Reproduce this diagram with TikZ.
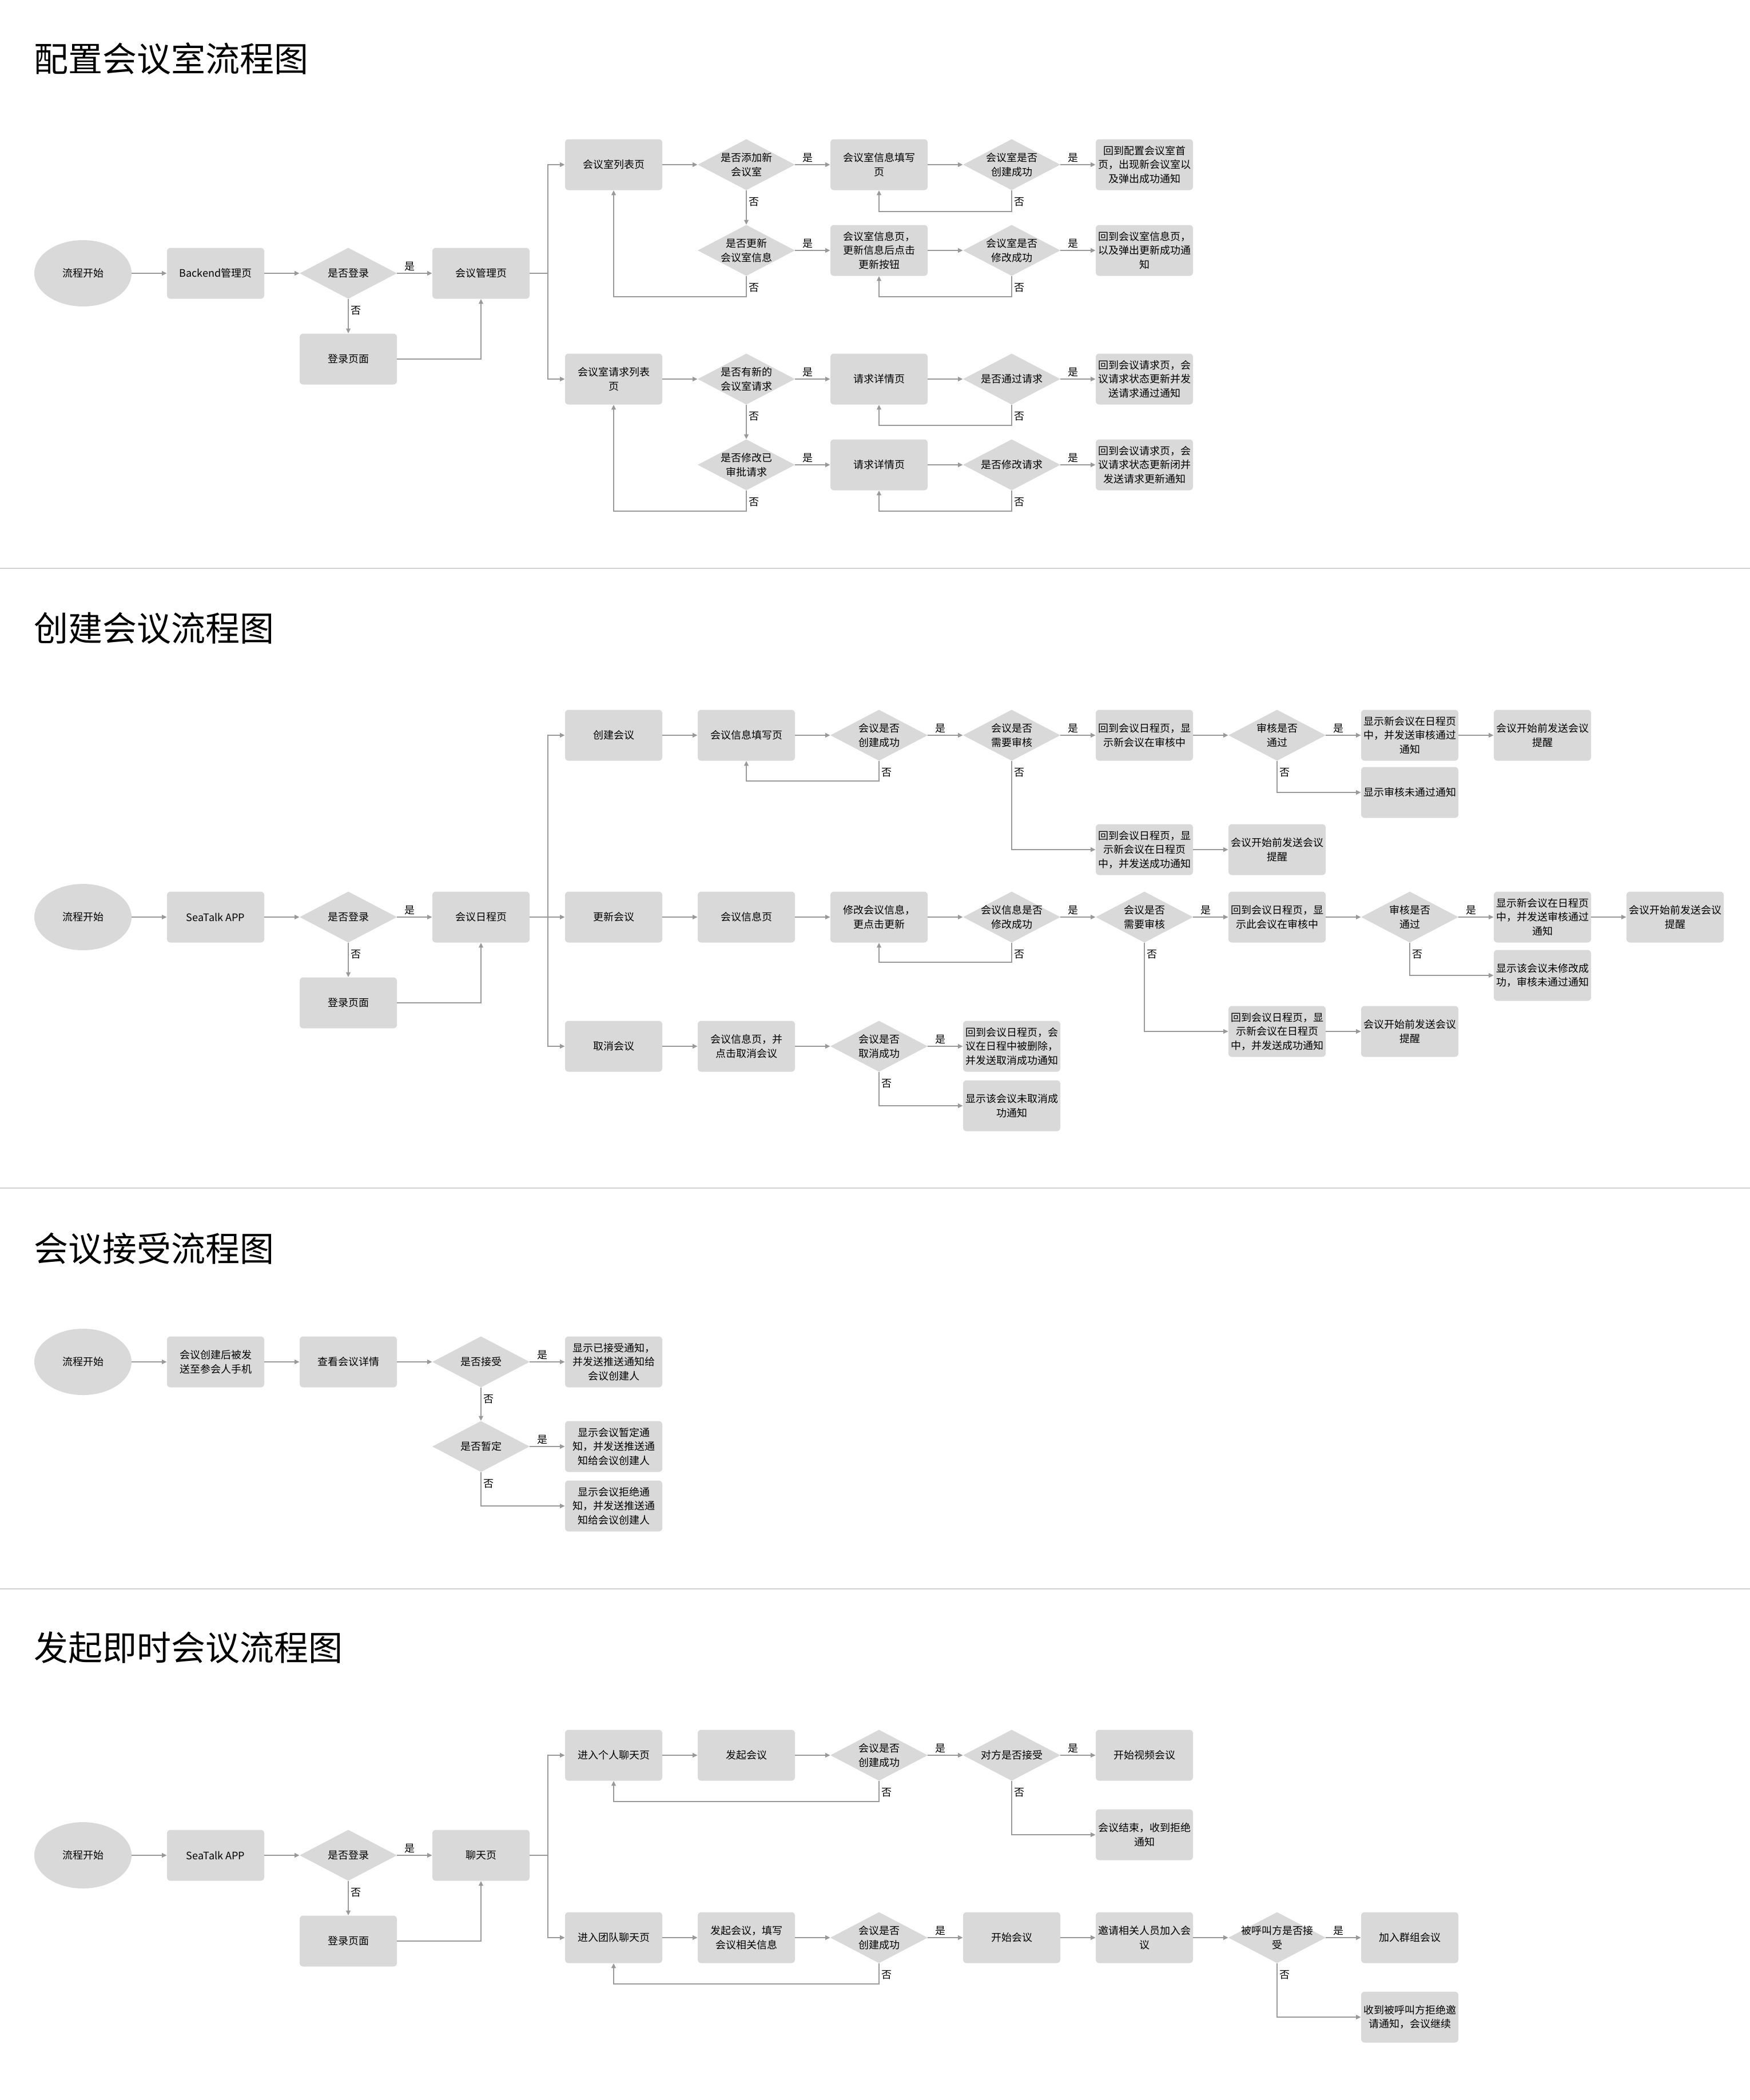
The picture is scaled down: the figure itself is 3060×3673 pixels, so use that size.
\documentclass[tikz,border=0pt]{standalone}
\usepackage{fontspec}
\setmainfont{Noto Sans CJK SC}
\usetikzlibrary{arrows.meta,shapes.geometric}
\definecolor{boxgray}{HTML}{D9D9D9}
\definecolor{linegray}{HTML}{999999}
\definecolor{sepgray}{HTML}{D2D2D2}
\begin{document}
\begin{tikzpicture}[x=0.5pt,y=-0.5pt,
  txt/.style={font=\fontsize{9pt}{12.25pt}\selectfont, align=center, text=black},
  box/.style={txt, rectangle, rounded corners=3pt, fill=boxgray, minimum width=85pt, minimum height=44.5pt, inner sep=0pt},
  dia/.style={txt, rectangle, fill=white, minimum width=85pt, minimum height=44.5pt, inner sep=0pt,
    path picture={\fill[boxgray] (path picture bounding box.north) -- (path picture bounding box.east) -- (path picture bounding box.south) -- (path picture bounding box.west) -- cycle;}},
  start/.style={txt, ellipse, fill=boxgray, minimum width=85pt, minimum height=58pt, inner sep=0pt},
  arr/.style={draw=linegray, line width=0.9pt, -{Triangle[length=4.2pt,width=3.8pt]}},
  ln/.style={draw=linegray, line width=0.9pt},
  lbl/.style={font=\fontsize{9pt}{10pt}\selectfont, inner sep=0pt, text=black},
  yes/.style={lbl, xshift=11pt, yshift=6pt},
  no/.style={lbl, xshift=6.5pt, yshift=-10pt},
  title/.style={font=\fontsize{30pt}{36pt}\selectfont, anchor=west, inner sep=0pt, text=black},
  sep/.style={draw=sepgray, line width=0.7pt}
]
\fill[white] (0,0) rectangle (3060,3673);
\useasboundingbox (0,0) rectangle (3060,3673);

% separators
\coordinate (sepA1) at (0,994);  \coordinate (sepA2) at (3060,994);
\coordinate (sepB1) at (0,2078); \coordinate (sepB2) at (3060,2078);
\coordinate (sepC1) at (0,2779); \coordinate (sepC2) at (3060,2779);
\draw[sep] (sepA1) -- (sepA2);
\draw[sep] (sepB1) -- (sepB2);
\draw[sep] (sepC1) -- (sepC2);

% titles
\node[title] (t1) at (59,103) {配置会议室流程图};
\node[title] (t2) at (59,1099) {创建会议流程图};
\node[title] (t3) at (59,2184) {会议接受流程图};
\node[title] (t4) at (59,2882) {发起即时会议流程图};

%%%%%%%%%%%%%%%% Section 1
\node[start] (s1e) at (145,478) {流程开始};
\node[box] (s1b) at (377,478) {Backend管理页};
\node[dia] (s1d) at (609,478) {是否登录};
\node[box] (s1m) at (841,478) {会议管理页};
\node[box] (s1l) at (609,628) {登录页面};
\node[box] (s1a4) at (1073,288) {会议室列表页};
\node[dia] (s1a5) at (1305,288) {是否添加新\\会议室};
\node[box] (s1a6) at (1537,288) {会议室信息填写\\页};
\node[dia] (s1a7) at (1769,288) {会议室是否\\创建成功};
\node[box] (s1a8) at (2001,288) {回到配置会议室首\\页，出现新会议室以\\及弹出成功通知};
\node[dia] (s1b5) at (1305,438) {是否更新\\会议室信息};
\node[box] (s1b6) at (1537,438) {会议室信息页，\\更新信息后点击\\更新按钮};
\node[dia] (s1b7) at (1769,438) {会议室是否\\修改成功};
\node[box] (s1b8) at (2001,438) {回到会议室信息页，\\以及弹出更新成功通\\知};
\node[box] (s1c4) at (1073,663) {会议室请求列表\\页};
\node[dia] (s1c5) at (1305,663) {是否有新的\\会议室请求};
\node[box] (s1c6) at (1537,663) {请求详情页};
\node[dia] (s1c7) at (1769,663) {是否通过请求};
\node[box] (s1c8) at (2001,663) {回到会议请求页，会\\议请求状态更新并发\\送请求通过通知};
\node[dia] (s1d5) at (1305,813) {是否修改已\\审批请求};
\node[box] (s1d6) at (1537,813) {请求详情页};
\node[dia] (s1d7) at (1769,813) {是否修改请求};
\node[box] (s1d8) at (2001,813) {回到会议请求页，会\\议请求状态更新闭并\\发送请求更新通知};

\draw[arr] (s1e.east) -- (s1b.west);
\draw[arr] (s1b.east) -- (s1d.west);
\draw[arr] (s1d.east) node[yes]{是} -- (s1m.west);
\draw[arr] (s1d.south) node[no]{否} -- (s1l.north);
\draw[arr] (s1l.east) -| (s1m.south);
\coordinate (s1bus) at (958,478);
\draw[ln] (s1m.east) -- (s1bus);
\draw[arr] (s1bus) |- (s1a4.west);
\draw[arr] (s1bus) |- (s1c4.west);
\draw[arr] (s1a4.east) -- (s1a5.west);
\draw[arr] (s1a5.east) node[yes]{是} -- (s1a6.west);
\draw[arr] (s1a6.east) -- (s1a7.west);
\draw[arr] (s1a7.east) node[yes]{是} -- (s1a8.west);
\draw[arr] (s1a7.south) node[no]{否} -- ++(0,37) -| (s1a6.south);
\draw[arr] (s1a5.south) node[no]{否} -- (s1b5.north);
\draw[arr] (s1b5.east) node[yes]{是} -- (s1b6.west);
\draw[arr] (s1b6.east) -- (s1b7.west);
\draw[arr] (s1b7.east) node[yes]{是} -- (s1b8.west);
\draw[arr] (s1b7.south) node[no]{否} -- ++(0,36) -| (s1b6.south);
\draw[arr] (s1b5.south) node[no]{否} -- ++(0,36) -| (s1a4.south);
\draw[arr] (s1c4.east) -- (s1c5.west);
\draw[arr] (s1c5.east) node[yes]{是} -- (s1c6.west);
\draw[arr] (s1c6.east) -- (s1c7.west);
\draw[arr] (s1c7.east) node[yes]{是} -- (s1c8.west);
\draw[arr] (s1c7.south) node[no]{否} -- ++(0,36) -| (s1c6.south);
\draw[arr] (s1c5.south) node[no]{否} -- (s1d5.north);
\draw[arr] (s1d5.east) node[yes]{是} -- (s1d6.west);
\draw[arr] (s1d6.east) -- (s1d7.west);
\draw[arr] (s1d7.east) node[yes]{是} -- (s1d8.west);
\draw[arr] (s1d7.south) node[no]{否} -- ++(0,36) -| (s1d6.south);
\draw[arr] (s1d5.south) node[no]{否} -- ++(0,36) -| (s1c4.south);

%%%%%%%%%%%%%%%% Section 2
\node[start] (s2e) at (145,1604) {流程开始};
\node[box] (s2b) at (377,1604) {SeaTalk APP};
\node[dia] (s2d) at (609,1604) {是否登录};
\node[box] (s2m) at (841,1604) {会议日程页};
\node[box] (s2l) at (609,1754) {登录页面};

\node[box] (s2a4) at (1073,1286) {创建会议};
\node[box] (s2a5) at (1305,1286) {会议信息填写页};
\node[dia] (s2a6) at (1537,1286) {会议是否\\创建成功};
\node[dia] (s2a7) at (1769,1286) {会议是否\\需要审核};
\node[box] (s2a8) at (2001,1286) {回到会议日程页，显\\示新会议在审核中};
\node[dia] (s2a9) at (2233,1286) {审核是否\\通过};
\node[box] (s2a10) at (2465,1286) {显示新会议在日程页\\中，并发送审核通过\\通知};
\node[box] (s2a11) at (2697,1286) {会议开始前发送会议\\提醒};
\node[box] (s2a10b) at (2465,1386) {显示审核未通过通知};
\node[box] (s2a8b) at (2001,1486) {回到会议日程页，显\\示新会议在日程页\\中，并发送成功通知};
\node[box] (s2a9b) at (2233,1486) {会议开始前发送会议\\提醒};

\node[box] (s2b4) at (1073,1604) {更新会议};
\node[box] (s2b5) at (1305,1604) {会议信息页};
\node[box] (s2b6) at (1537,1604) {修改会议信息，\\更点击更新};
\node[dia] (s2b7) at (1769,1604) {会议信息是否\\修改成功};
\node[dia] (s2b8) at (2001,1604) {会议是否\\需要审核};
\node[box] (s2b9) at (2233,1604) {回到会议日程页，显\\示此会议在审核中};
\node[dia] (s2b10) at (2465,1604) {审核是否\\通过};
\node[box] (s2b11) at (2697,1604) {显示新会议在日程页\\中，并发送审核通过\\通知};
\node[box] (s2b12) at (2929,1604) {会议开始前发送会议\\提醒};
\node[box] (s2b11b) at (2697,1706) {显示该会议未修改成\\功，审核未通过通知};
\node[box] (s2b9b) at (2233,1804) {回到会议日程页，显\\示新会议在日程页\\中，并发送成功通知};
\node[box] (s2b10b) at (2465,1804) {会议开始前发送会议\\提醒};

\node[box] (s2c4) at (1073,1830) {取消会议};
\node[box] (s2c5) at (1305,1830) {会议信息页，并\\点击取消会议};
\node[dia] (s2c6) at (1537,1830) {会议是否\\取消成功};
\node[box] (s2c7) at (1769,1830) {回到会议日程页，会\\议在日程中被删除，\\并发送取消成功通知};
\node[box] (s2c7b) at (1769,1934) {显示该会议未取消成\\功通知};

\draw[arr] (s2e.east) -- (s2b.west);
\draw[arr] (s2b.east) -- (s2d.west);
\draw[arr] (s2d.east) node[yes]{是} -- (s2m.west);
\draw[arr] (s2d.south) node[no]{否} -- (s2l.north);
\draw[arr] (s2l.east) -| (s2m.south);
\coordinate (s2bus) at (958,1604);
\draw[arr] (s2m.east) -- (s2b4.west);
\draw[arr] (s2bus) |- (s2a4.west);
\draw[arr] (s2bus) |- (s2c4.west);

\draw[arr] (s2a4.east) -- (s2a5.west);
\draw[arr] (s2a5.east) -- (s2a6.west);
\draw[arr] (s2a6.east) node[yes]{是} -- (s2a7.west);
\draw[arr] (s2a6.south) node[no]{否} -- ++(0,35) -| (s2a5.south);
\draw[arr] (s2a7.east) node[yes]{是} -- (s2a8.west);
\draw[arr] (s2a7.south) node[no]{否} |- (s2a8b.west);
\draw[arr] (s2a8.east) -- (s2a9.west);
\draw[arr] (s2a9.east) node[yes]{是} -- (s2a10.west);
\draw[arr] (s2a9.south) node[no]{否} |- (s2a10b.west);
\draw[arr] (s2a10.east) -- (s2a11.west);
\draw[arr] (s2a8b.east) -- (s2a9b.west);

\draw[arr] (s2b4.east) -- (s2b5.west);
\draw[arr] (s2b5.east) -- (s2b6.west);
\draw[arr] (s2b6.east) -- (s2b7.west);
\draw[arr] (s2b7.east) node[yes]{是} -- (s2b8.west);
\draw[arr] (s2b7.south) node[no]{否} -- ++(0,34) -| (s2b6.south);
\draw[arr] (s2b8.east) node[yes]{是} -- (s2b9.west);
\draw[arr] (s2b8.south) node[no]{否} |- (s2b9b.west);
\draw[arr] (s2b9.east) -- (s2b10.west);
\draw[arr] (s2b10.east) node[yes]{是} -- (s2b11.west);
\draw[arr] (s2b10.south) node[no]{否} |- (s2b11b.west);
\draw[arr] (s2b11.east) -- (s2b12.west);
\draw[arr] (s2b9b.east) -- (s2b10b.west);

\draw[arr] (s2c4.east) -- (s2c5.west);
\draw[arr] (s2c5.east) -- (s2c6.west);
\draw[arr] (s2c6.east) node[yes]{是} -- (s2c7.west);
\draw[arr] (s2c6.south) node[no]{否} |- (s2c7b.west);

%%%%%%%%%%%%%%%% Section 3
\node[start] (s3e) at (145,2382) {流程开始};
\node[box] (s3b) at (377,2382) {会议创建后被发\\送至参会人手机};
\node[box] (s3v) at (609,2382) {查看会议详情};
\node[dia] (s3d) at (841,2382) {是否接受};
\node[box] (s3r1) at (1073,2382) {显示已接受通知，\\并发送推送通知给\\会议创建人};
\node[dia] (s3d2) at (841,2530) {是否暂定};
\node[box] (s3r2) at (1073,2530) {显示会议暂定通\\知，并发送推送通\\知给会议创建人};
\node[box] (s3r3) at (1073,2634) {显示会议拒绝通\\知，并发送推送通\\知给会议创建人};

\draw[arr] (s3e.east) -- (s3b.west);
\draw[arr] (s3b.east) -- (s3v.west);
\draw[arr] (s3v.east) -- (s3d.west);
\draw[arr] (s3d.east) node[yes]{是} -- (s3r1.west);
\draw[arr] (s3d.south) node[no]{否} -- (s3d2.north);
\draw[arr] (s3d2.east) node[yes]{是} -- (s3r2.west);
\draw[arr] (s3d2.south) node[no]{否} |- (s3r3.west);

%%%%%%%%%%%%%%%% Section 4
\node[start] (s4e) at (145,3245) {流程开始};
\node[box] (s4b) at (377,3245) {SeaTalk APP};
\node[dia] (s4d) at (609,3245) {是否登录};
\node[box] (s4m) at (841,3245) {聊天页};
\node[box] (s4l) at (609,3395) {登录页面};

\node[box] (s4a4) at (1073,3070) {进入个人聊天页};
\node[box] (s4a5) at (1305,3070) {发起会议};
\node[dia] (s4a6) at (1537,3070) {会议是否\\创建成功};
\node[dia] (s4a7) at (1769,3070) {对方是否接受};
\node[box] (s4a8) at (2001,3070) {开始视频会议};
\node[box] (s4a8b) at (2001,3209) {会议结束，收到拒绝\\通知};

\node[box] (s4b4) at (1073,3389) {进入团队聊天页};
\node[box] (s4b5) at (1305,3389) {发起会议，填写\\会议相关信息};
\node[dia] (s4b6) at (1537,3389) {会议是否\\创建成功};
\node[box] (s4b7) at (1769,3389) {开始会议};
\node[box] (s4b8) at (2001,3389) {邀请相关人员加入会\\议};
\node[dia] (s4b9) at (2233,3389) {被呼叫方是否接\\受};
\node[box] (s4b10) at (2465,3389) {加入群组会议};
\node[box] (s4b10b) at (2465,3528) {收到被呼叫方拒绝邀\\请通知，会议继续};

\draw[arr] (s4e.east) -- (s4b.west);
\draw[arr] (s4b.east) -- (s4d.west);
\draw[arr] (s4d.east) node[yes]{是} -- (s4m.west);
\draw[arr] (s4d.south) node[no]{否} -- (s4l.north);
\draw[arr] (s4l.east) -| (s4m.south);
\coordinate (s4bus) at (958,3245);
\draw[ln] (s4m.east) -- (s4bus);
\draw[arr] (s4bus) |- (s4a4.west);
\draw[arr] (s4bus) |- (s4b4.west);

\draw[arr] (s4a4.east) -- (s4a5.west);
\draw[arr] (s4a5.east) -- (s4a6.west);
\draw[arr] (s4a6.east) node[yes]{是} -- (s4a7.west);
\draw[arr] (s4a6.south) node[no]{否} -- ++(0,36) -| (s4a4.south);
\draw[arr] (s4a7.east) node[yes]{是} -- (s4a8.west);
\draw[arr] (s4a7.south) node[no]{否} |- (s4a8b.west);

\draw[arr] (s4b4.east) -- (s4b5.west);
\draw[arr] (s4b5.east) -- (s4b6.west);
\draw[arr] (s4b6.east) node[yes]{是} -- (s4b7.west);
\draw[arr] (s4b6.south) node[no]{否} -- ++(0,36) -| (s4b4.south);
\draw[arr] (s4b7.east) -- (s4b8.west);
\draw[arr] (s4b8.east) -- (s4b9.west);
\draw[arr] (s4b9.east) node[yes]{是} -- (s4b10.west);
\draw[arr] (s4b9.south) node[no]{否} |- (s4b10b.west);
\end{tikzpicture}
\end{document}
